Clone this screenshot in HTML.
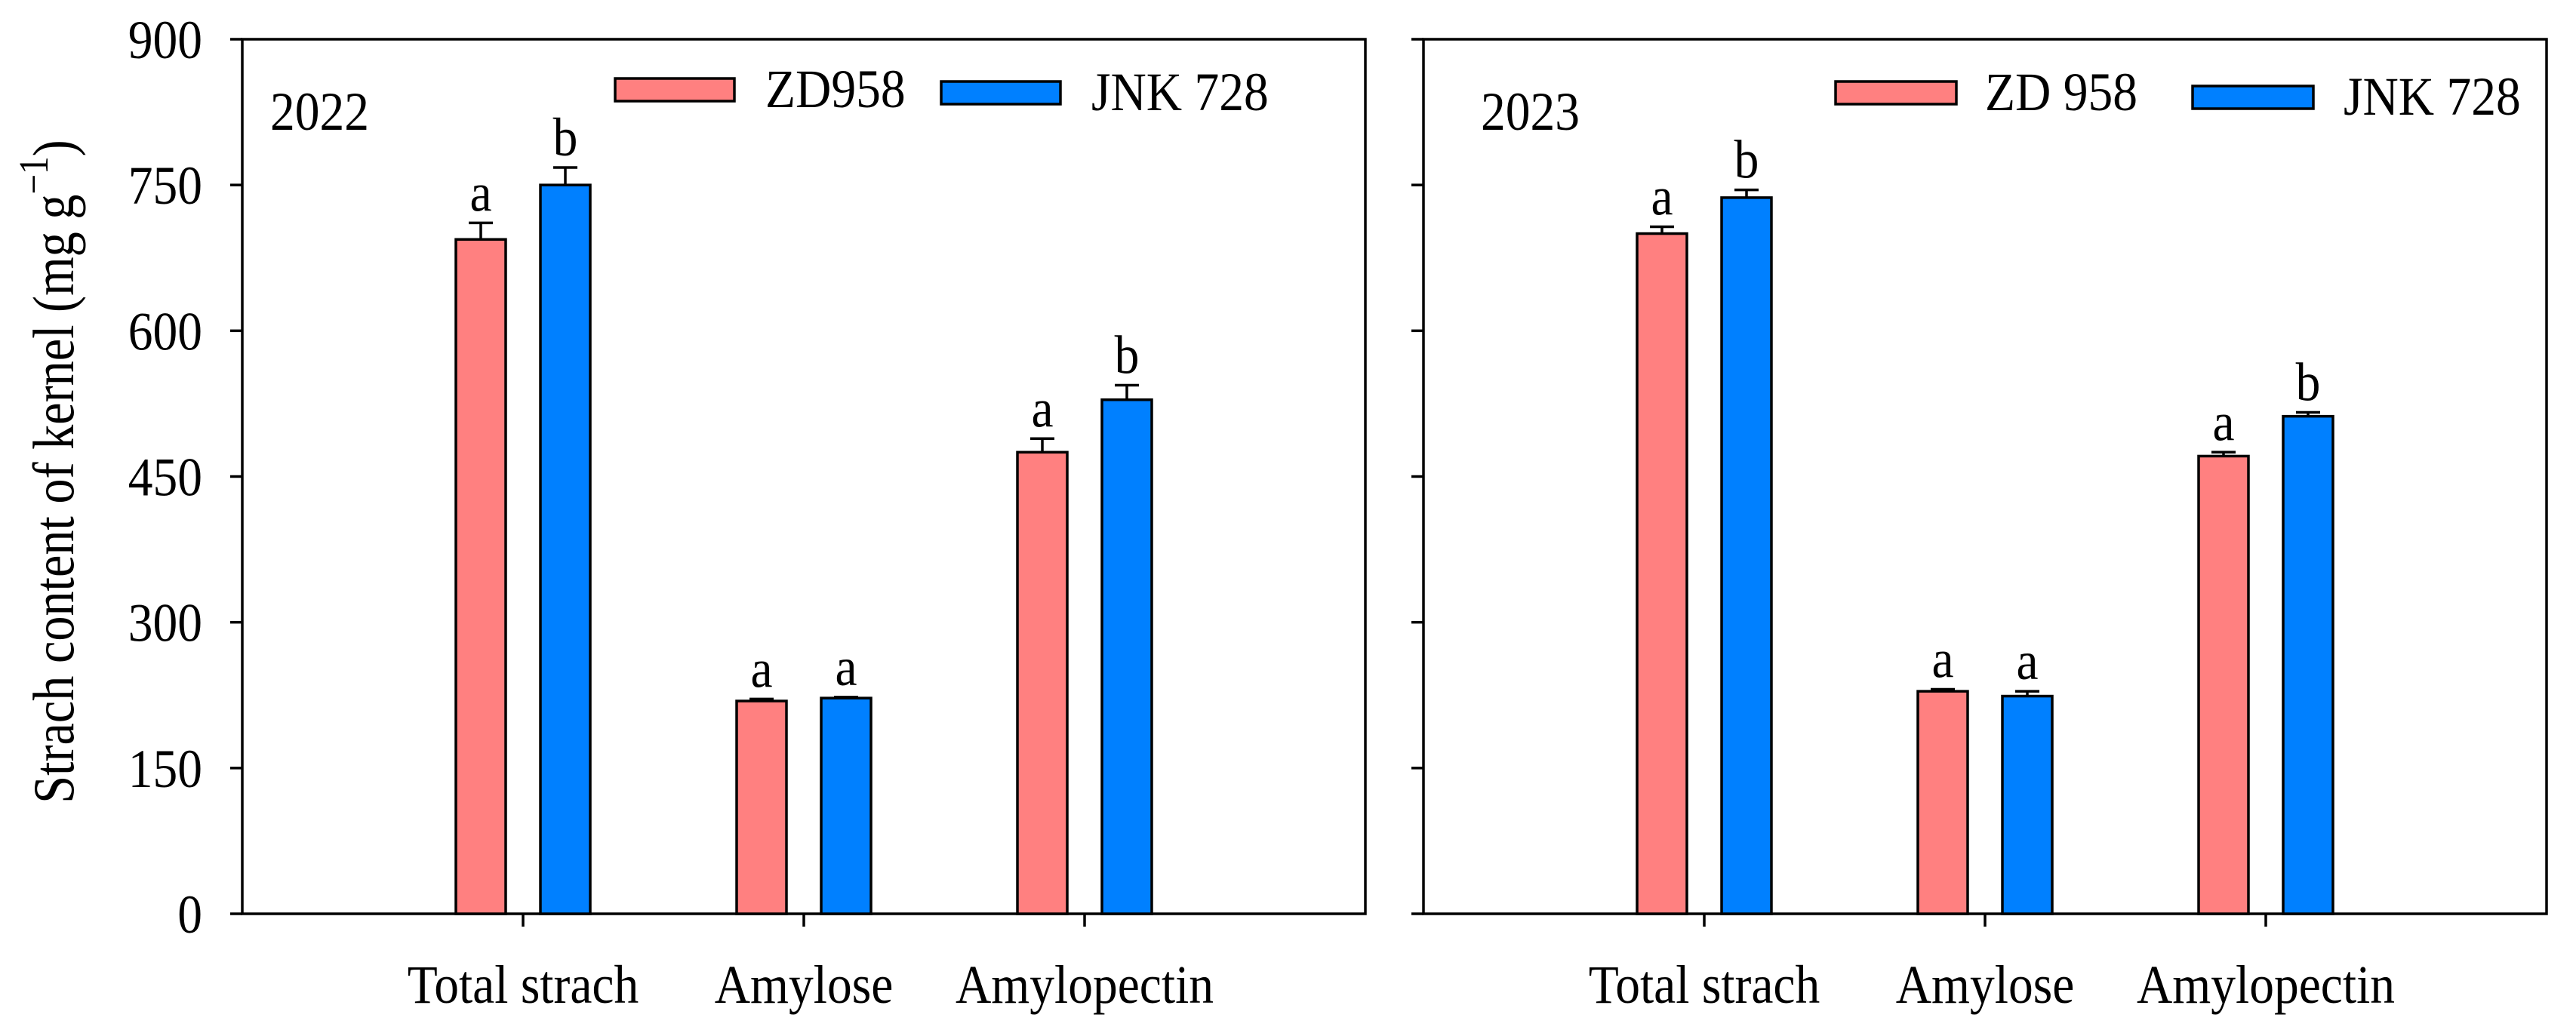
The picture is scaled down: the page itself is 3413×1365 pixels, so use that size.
<!DOCTYPE html>
<html><head><meta charset="utf-8">
<style>
html,body{margin:0;padding:0;background:#fff;}
svg{display:block;font-family:"Liberation Serif","Times New Roman",serif;}
</style></head>
<body>
<svg id="chart" width="3413" height="1365" viewBox="0 0 3413 1365" xmlns="http://www.w3.org/2000/svg">
<text transform="translate(97,625) rotate(-90) scale(0.86,1)" text-anchor="middle" font-size="77">Strach content of kernel (mg g<tspan dy="-34" font-size="55">−1</tspan><tspan dy="34">)</tspan></text>
</svg>
<script>
const categories = ["Total strach", "Amylose", "Amylopectin"];
const yTicks = [0, 150, 300, 450, 600, 750, 900];
const zd2022 = [694, 219, 475];
const zd2022Err = [17, 2, 14];
const jnk2022 = [750, 222, 529];
const jnk2022Err = [18, 1, 15];
const zd2023 = [700, 229, 471];
const zd2023Err = [7, 2, 4];
const jnk2023 = [737, 224, 512];
const jnk2023Err = [8, 5, 4];
const letters2022zd = ["a", "a", "a"];
const letters2022jnk = ["b", "a", "b"];
const letters2023zd = ["a", "a", "a"];
const letters2023jnk = ["b", "a", "b"];

const NS = "http://www.w3.org/2000/svg";
const svg = document.getElementById("chart");
function mk(tag, attrs, parent) {
  const e = document.createElementNS(NS, tag);
  for (const k in attrs) e.setAttribute(k, attrs[k]);
  (parent || svg).appendChild(e);
  return e;
}
function txt(x, y, anchor, str, parent) {
  const t = mk("text", {transform: "translate(" + x + "," + y + ") scale(0.91,1)", "text-anchor": anchor, "font-size": 72}, parent);
  t.textContent = str;
  return t;
}
const TOP = 52, BOT = 1211, YMAX = 900;
function yScale(v) { return BOT - v / YMAX * (BOT - TOP); }

function panel(cfg) {
  const g = mk("g", {});
  
  
  const L = cfg.left, R = cfg.left + 1488;
  const xPos = i => L + 372 * (i + 1);
  const fr = mk("rect", {x: L, y: TOP, width: R - L, height: BOT - TOP, fill: "none", stroke: "#000", "stroke-width": 3.5}, g);
  
  
  yTicks.forEach(t => {
    const y = yScale(t);
    const tk = mk("line", {x1: L - 16, x2: L, y1: y, y2: y, stroke: "#000", "stroke-width": 3.5}, g);
    
    
    if (cfg.labels) {
      const tl = txt(L - 53, y + 25, "end", t, g);
      
      
    }
  });
  const series = [
    {vals: cfg.zd, err: cfg.zdErr, let: cfg.zdLet, color: "#FF8080", off: -56, nm: "zd958"},
    {vals: cfg.jnk, err: cfg.jnkErr, let: cfg.jnkLet, color: "#0080FF", off: 56, nm: "jnk728"}
  ];
  categories.forEach((c, i) => {
    const cx = xPos(i);
    const tk = mk("line", {x1: cx, x2: cx, y1: BOT, y2: BOT + 17, stroke: "#000", "stroke-width": 3.5}, g);
    
    
    const xl = txt(cx, 1329, "middle", c, g);
    
    
    series.forEach(s => {
      const bx = cx + s.off - 33, top = yScale(s.vals[i]);
      const eTop = yScale(s.vals[i] + s.err[i]);
      const el = mk("line", {x1: cx + s.off, x2: cx + s.off, y1: top, y2: eTop, stroke: "#000", "stroke-width": 3.5}, g);
      
      
      const cap = mk("line", {x1: cx + s.off - 16, x2: cx + s.off + 16, y1: eTop, y2: eTop, stroke: "#000", "stroke-width": 3.5}, g);
      
      
      const b = mk("rect", {x: bx, y: top, width: 66, height: BOT - top, fill: s.color, stroke: "#000", "stroke-width": 3.5}, g);
      
      
      const lt = txt(cx + s.off, eTop - 16, "middle", s.let[i], g);
      
      
    });
  });
  const yr = txt(cfg.yearX, 172, "start", cfg.year, g);
  
  
  cfg.legend.forEach(le => {
    const r = mk("rect", {x: le.x, y: le.y, width: le.w, height: 30, fill: le.color, stroke: "#000", "stroke-width": 3.5}, g);
    
    
    const t = txt(le.tx, le.y + 38, "start", le.text, g);
    
    
  });
}
panel({name: "panel-2022", left: 321, labels: true, year: "2022", yearX: 358,
  zd: zd2022, zdErr: zd2022Err, jnk: jnk2022, jnkErr: jnk2022Err, zdLet: letters2022zd, jnkLet: letters2022jnk,
  legend: [{x: 815, y: 104, w: 158, color: "#FF8080", tx: 1014, text: "ZD958"},
           {x: 1247, y: 108, w: 158, color: "#0080FF", tx: 1446, text: "JNK 728"}]});
panel({name: "panel-2023", left: 1886, labels: false, year: "2023", yearX: 1962,
  zd: zd2023, zdErr: zd2023Err, jnk: jnk2023, jnkErr: jnk2023Err, zdLet: letters2023zd, jnkLet: letters2023jnk,
  legend: [{x: 2432, y: 108, w: 160, color: "#FF8080", tx: 2630, text: "ZD 958"},
           {x: 2905, y: 114, w: 160, color: "#0080FF", tx: 3105, text: "JNK 728"}]});
</script>
</body></html>
